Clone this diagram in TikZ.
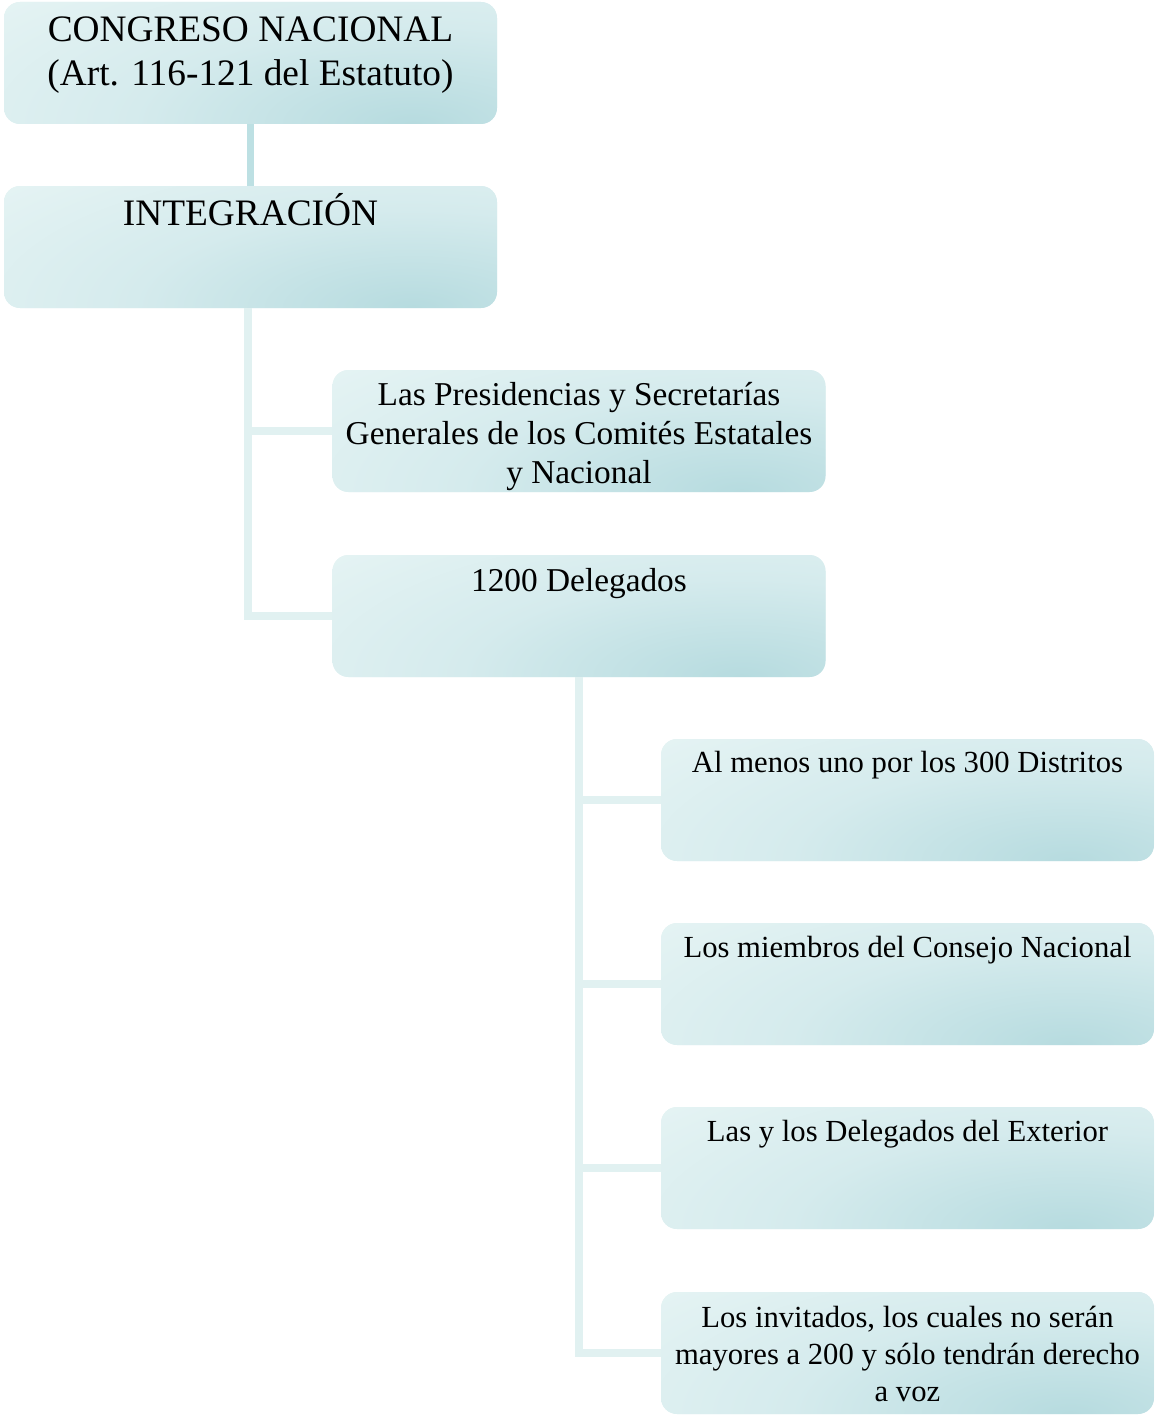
\documentclass[tikz,border=0pt]{standalone}
\usepackage{fontspec}
\setmainfont{Liberation Serif}
\usetikzlibrary{calc}

\definecolor{boxlight}{RGB}{230,244,244}
\definecolor{boxmid}{RGB}{213,235,237}
\definecolor{boxdark}{RGB}{182,219,223}
\definecolor{linkdark}{RGB}{189,224,227}
\definecolor{linklight}{RGB}{225,241,241}

% soft glow towards the lower right of each card; the shaded rectangle is
% much larger than the card, so the light colour fills the rest of it
\pgfdeclareradialshading{cardglow}{\pgfpoint{0bp}{0bp}}{%
  color(0bp)=(boxdark); color(10bp)=(boxmid); color(20bp)=(boxlight); color(50bp)=(boxlight)}

% multi-line centred text whose baseline is the first line
\newcommand{\stackc}[1]{\begin{tabular}[t]{@{}c@{}}#1\end{tabular}}

\tikzset{
  card/.style={
    rectangle, rounded corners=12pt, inner sep=0pt,
    minimum width=369.75pt, minimum height=91.5pt,
    fill=boxlight,
    path picture={
      \shade[shading=cardglow]
        ($(path picture bounding box.south east)!0.17!(path picture bounding box.south west)$)
        ++(-525pt,-185pt) rectangle ++(1050pt,370pt);
    }
  },
  bigtxt/.style={anchor=base, inner sep=0pt, font=\fontsize{28}{33}\selectfont},
  midtxt/.style={anchor=base, inner sep=0pt, font=\fontsize{25}{29}\selectfont},
  smalltxt/.style={anchor=base, inner sep=0pt, font=\fontsize{23}{27.5}\selectfont},
  linkA/.style={draw=linkdark, line width=5.4pt},
  linkB/.style={draw=linklight, line width=5.8pt}
}

\begin{document}
\begin{tikzpicture}[x=0.75pt, y=-0.75pt]
  \useasboundingbox (0,0) rectangle (1154,1416);

  % cards
  \node[card] (b1) at (250.5,63) {};
  \node[card] (b2) at (250.5,247) {};
  \node[card] (b3) at (579,431) {};
  \node[card] (b4) at (579,616) {};
  \node[card] (b5) at (907.5,800) {};
  \node[card] (b6) at (907.5,984) {};
  \node[card] (b7) at (907.5,1168) {};
  \node[card] (b8) at (907.5,1353) {};

  % texts, set near the top of each card
  \node[bigtxt] (t1) at ($(b1.north)+(0,40)$) {\stackc{CONGRESO NACIONAL\\(Art. 116-121 del Estatuto)}};
  \node[bigtxt] (t2) at ($(b2.north)+(0,40)$) {INTEGRACIÓN};
  \node[midtxt] (t3) at ($(b3.north)+(0,36)$) {\stackc{Las Presidencias y Secretarías\\Generales de los Comités Estatales\\y Nacional}};
  \node[midtxt] (t4) at ($(b4.north)+(0,37)$) {1200 Delegados};
  \node[smalltxt] (t5) at ($(b5.north)+(0,34)$) {Al menos uno por los 300 Distritos};
  \node[smalltxt] (t6) at ($(b6.north)+(0,35)$) {Los miembros del Consejo Nacional};
  \node[smalltxt] (t7) at ($(b7.north)+(0,35)$) {Las y los Delegados del Exterior};
  \node[smalltxt] (t8) at ($(b8.north)+(0,36)$) {\stackc{Los invitados, los cuales no serán\\mayores a 200 y sólo tendrán derecho\\a voz}};

  % connectors
  \draw[linkA] (b1.south) -- (b2.north);
  \draw[linkB] ([xshift=-2]b2.south) |- (b3.west);
  \draw[linkB] ([xshift=-2]b2.south) |- (b4.west);
  \foreach \k in {b5,b6,b7,b8}
    \draw[linkB] (b4.south) |- (\k.west);
\end{tikzpicture}
\end{document}
